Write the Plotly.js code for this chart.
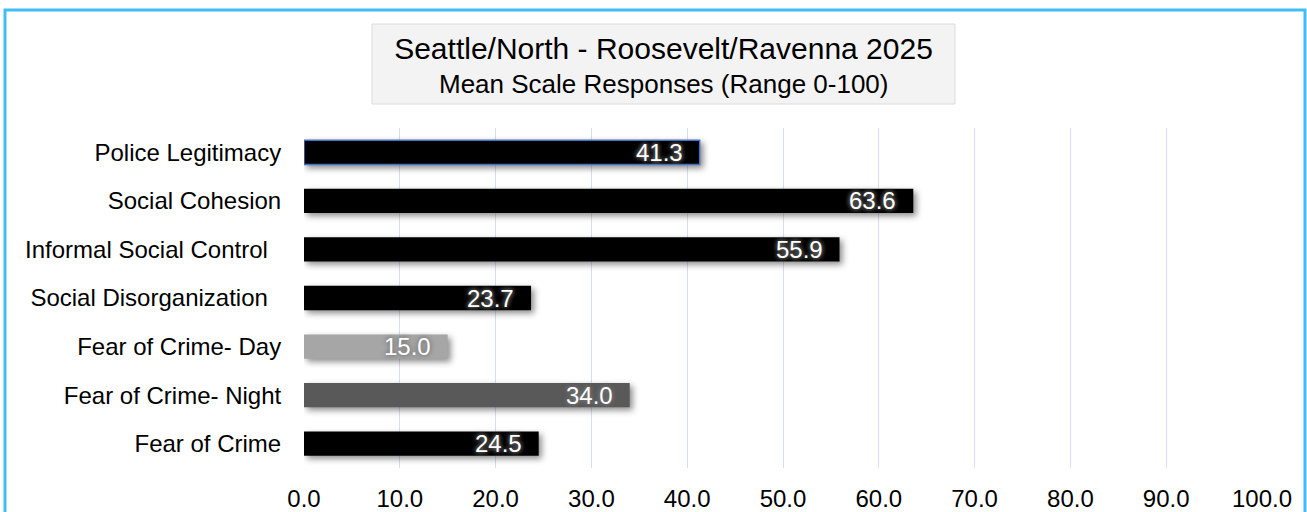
<!DOCTYPE html>
<html>
<head>
<meta charset="utf-8">
<script src="https://cdn.plot.ly/plotly-3.0.1.min.js"></script>
<style>
html,body{margin:0;padding:0;background:#fff;}
#chart{width:1307px;height:512px;}
</style>
</head>
<body>
<div id="chart"></div>
<script>
const categories = ["Police Legitimacy", "Social Cohesion", "Informal Social Control\u00a0\u00a0", "Social Disorganization\u00a0\u00a0", "Fear of Crime- Day", "Fear of Crime- Night", "Fear of Crime"];
const values = [41.3, 63.6, 55.9, 23.7, 15.0, 34.0, 24.5];
const barColors = ["#000000", "#000000", "#000000", "#000000", "#a6a6a6", "#595959", "#000000"];
const outlineColors = ["#4472c4", "#000000", "#000000", "#000000", "#a6a6a6", "#595959", "#000000"];
const outlineWidths = [1.5, 0, 0, 0, 0, 0, 0];
const tickVals = [0, 10, 20, 30, 40, 50, 60, 70, 80, 90, 100];
const tickText = ["0.0", "10.0", "20.0", "30.0", "40.0", "50.0", "60.0", "70.0", "80.0", "90.0", "100.0"];
const titleLine1 = "Seattle/North - Roosevelt/Ravenna 2025";
const titleLine2 = "Mean Scale Responses (Range 0-100)";

const L = 304, R = 45, T = 128, B = 44;
const W = 1307, H = 512;
const pw = W - L - R, ph = H - T - B;
const px = x => (x - L) / pw;
const py = y => (H - B - y) / ph;

const trace = {
  type: "bar",
  orientation: "h",
  y: categories,
  x: values,
  marker: {color: barColors, line: {color: outlineColors, width: outlineWidths}},
  hoverinfo: "x+y"
};

const annotations = values.map((v, i) => ({
  x: v, y: categories[i], xref: "x", yref: "y",
  text: v.toFixed(1), showarrow: false,
  xanchor: "right", yanchor: "middle", xshift: -15,
  font: {family: "Liberation Sans, Arial, sans-serif", size: 24, color: "#ffffff",
         shadow: "0px 0px 5px #777, 0px 0px 5px #777"}
}));
annotations.push({
  xref: "paper", yref: "paper", x: px(663.5), y: py(84),
  xanchor: "center", yanchor: "middle", showarrow: false,
  text: titleLine2,
  font: {family: "Liberation Sans, Arial, sans-serif", size: 26, color: "#000"}
});

const layout = {
  width: W, height: H,
  margin: {l: L, r: R, t: T, b: B},
  paper_bgcolor: "#ffffff",
  plot_bgcolor: "#ffffff",
  showlegend: false,
  bargap: 0.5,
  font: {family: "Liberation Sans, Arial, sans-serif", color: "#000"},
  title: {
    text: titleLine1,
    font: {size: 30, color: "#000"},
    xref: "container", yref: "container",
    x: 663.5 / W, xanchor: "center",
    y: 1 - 48 / H, yanchor: "middle"
  },
  xaxis: {
    range: [0, 100], tickvals: tickVals, ticktext: tickText,
    showgrid: true, gridcolor: "#d6dff0", gridwidth: 1,
    zeroline: false, showline: false,
    ticks: "outside", ticklen: 9, tickcolor: "rgba(0,0,0,0)",
    tickfont: {family: "Liberation Sans, Arial, sans-serif", size: 24, color: "#000"},
    fixedrange: true
  },
  yaxis: {
    autorange: "reversed", showgrid: false, zeroline: false, showline: false,
    ticks: "outside", ticklen: 17, tickcolor: "rgba(0,0,0,0)",
    tickfont: {size: 24, color: "#000"},
    fixedrange: true
  },
  shapes: [
    {type: "rect", xref: "paper", yref: "paper", x0: px(5), x1: px(1305), y0: py(560), y1: py(10),
     line: {color: "#3fbdf5", width: 3}, fillcolor: "rgba(0,0,0,0)", layer: "below"},
    {type: "rect", xref: "paper", yref: "paper", x0: px(372), x1: px(955), y0: py(104), y1: py(24),
     line: {color: "#dcdcdc", width: 1}, fillcolor: "#f3f3f3", layer: "below"}
  ],
  annotations: annotations
};

Plotly.newPlot("chart", [trace], layout, {displayModeBar: false}).then(() => {
  document.querySelectorAll(".barlayer .point path").forEach(p => {
    p.style.filter = "drop-shadow(3px 3px 3px rgba(0,0,0,0.45))";
  });
});
</script>
</body>
</html>
